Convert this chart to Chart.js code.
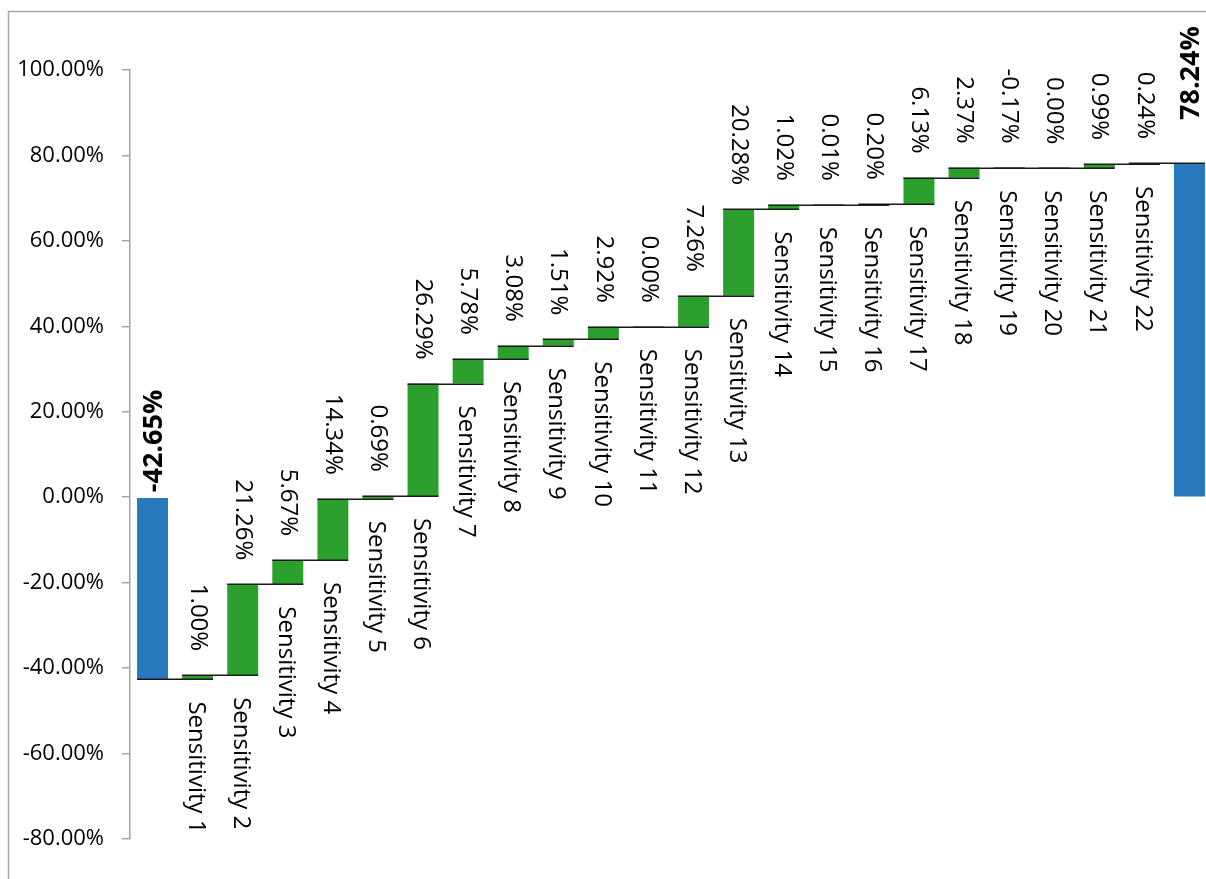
<!DOCTYPE html>
<html>
<head>
<meta charset="utf-8">
<script src="https://cdn.jsdelivr.net/npm/chart.js@4.4.1/dist/chart.umd.min.js"></script>
<style>
  html, body { margin: 0; padding: 0; overflow: hidden; background: #fff; }
</style>
</head>
<body>
<canvas id="waterfall-chart" width="1212" height="879"></canvas>
<script>
// Waterfall data
// ------------------------------
const categoryLabels = ['', 'Sensitivity 1', 'Sensitivity 2', 'Sensitivity 3', 'Sensitivity 4',
    'Sensitivity 5', 'Sensitivity 6', 'Sensitivity 7', 'Sensitivity 8', 'Sensitivity 9',
    'Sensitivity 10', 'Sensitivity 11', 'Sensitivity 12', 'Sensitivity 13', 'Sensitivity 14',
    'Sensitivity 15', 'Sensitivity 16', 'Sensitivity 17', 'Sensitivity 18', 'Sensitivity 19',
    'Sensitivity 20', 'Sensitivity 21', 'Sensitivity 22', ''];
const startValue = -42.65;
const stepValues = [1.00, 21.26, 5.67, 14.34, 0.69, 26.29, 5.78, 3.08, 1.51, 2.92, 0.00,
    7.26, 20.28, 1.02, 0.01, 0.20, 6.13, 2.37, -0.17, 0.00, 0.99, 0.24];
const endValue = 78.24;
const yTicks = [-80, -60, -40, -20, 0, 20, 40, 60, 80, 100];

const totalColor = '#2878bd';
const stepColor = '#2ca02c';

// build floating bars [from, to]
var ranges = [[0, startValue]];
var shown = [startValue];
var colors = [totalColor];
var running = startValue;
stepValues.forEach(function (v) {
    ranges.push([running, running + v]);
    running += v;
    shown.push(v);
    colors.push(stepColor);
});
ranges.push([0, endValue]);
shown.push(endValue);
colors.push(totalColor);

function fmt(v) { return v.toFixed(2) + '%'; }

const fontFamily = "'Open Sans', sans-serif";
Chart.defaults.font.family = fontFamily;
Chart.defaults.color = '#000';

// labels, connectors and outer frame
const waterfallDecor = {
    id: 'waterfallDecor',
    beforeDraw: function (chart) {
        var ctx = chart.ctx;
        ctx.save();
        ctx.strokeStyle = '#a6a6a6';
        ctx.lineWidth = 1.5;
        ctx.beginPath();
        ctx.moveTo(8.5, chart.height + 5);
        ctx.lineTo(8.5, 11.5);
        ctx.lineTo(chart.width + 5, 11.5);
        ctx.stroke();
        ctx.restore();
    },
    afterDatasetsDraw: function (chart) {
        var ctx = chart.ctx;
        var bars = chart.getDatasetMeta(0).data;
        var yScale = chart.scales.y;
        var last = bars.length - 1;
        ctx.save();

        // connector lines
        ctx.strokeStyle = '#1a1a1a';
        ctx.lineWidth = 1.5;
        for (var i = 0; i < last; i++) {
            var py = Math.round(yScale.getPixelForValue(ranges[i][1])) + 0.25;
            ctx.beginPath();
            ctx.moveTo(bars[i].x - bars[i].width / 2, py);
            ctx.lineTo(bars[i + 1].x + bars[i + 1].width / 2, py);
            ctx.stroke();
        }

        ctx.fillStyle = '#000';
        ctx.textBaseline = 'middle';
        bars.forEach(function (bar, i) {
            var top = yScale.getPixelForValue(Math.max(ranges[i][0], ranges[i][1]));
            var bottom = yScale.getPixelForValue(Math.min(ranges[i][0], ranges[i][1]));
            var isTotal = (i === 0 || i === last);

            // value label
            ctx.save();
            if (isTotal) {
                ctx.font = 'bold 27px ' + fontFamily;
                ctx.translate(bar.x + 2, top - (i === 0 ? 5 : 43));
                ctx.rotate(-Math.PI / 2);
                ctx.textAlign = 'left';
            } else {
                ctx.font = '24px ' + fontFamily;
                ctx.translate(bar.x, top - 24);
                ctx.rotate(Math.PI / 2);
                ctx.textAlign = 'right';
            }
            ctx.fillText(fmt(shown[i]), 0, 0);
            ctx.restore();

            // category label
            if (categoryLabels[i]) {
                ctx.save();
                ctx.font = '24px ' + fontFamily;
                ctx.translate(bar.x - 2, bottom + 22);
                ctx.rotate(Math.PI / 2);
                ctx.textAlign = 'left';
                ctx.fillText(categoryLabels[i], 0, 0);
                ctx.restore();
            }
        });
        ctx.restore();
    }
};

var ctx = document.getElementById('waterfall-chart');

var chartData = {
    labels: categoryLabels,
    datasets: [{
        data: ranges,
        backgroundColor: colors,
        borderWidth: 0,
        categoryPercentage: 1.0,
        barPercentage: 0.687
    }]
};

var chartOptions = {
    responsive: false,
    animation: false,
    layout: { padding: { top: 70, bottom: 40, left: 0, right: 0 } },
    plugins: {
        legend: { display: false },
        tooltip: { enabled: false }
    },
    scales: {
        x: { display: false },
        y: {
            min: yTicks[0],
            max: yTicks[yTicks.length - 1],
            afterFit: function (scale) { scale.width = 130; },
            afterBuildTicks: function (scale) {
                scale.ticks = yTicks.map(function (v) { return { value: v }; });
            },
            ticks: {
                padding: 18,
                font: { size: 22 },
                color: '#000',
                callback: function (v) { return fmt(v); }
            },
            grid: {
                drawOnChartArea: false,
                drawTicks: true,
                tickLength: 8,
                color: '#a6a6a6',
                lineWidth: 1.5
            },
            border: { display: true, color: '#a6a6a6', width: 1.5 }
        }
    }
};

var config = {
    type: 'bar',
    data: chartData,
    options: chartOptions,
    plugins: [waterfallDecor]
};

var waterfallChart = new Chart(ctx, config);
</script>
</body>
</html>
